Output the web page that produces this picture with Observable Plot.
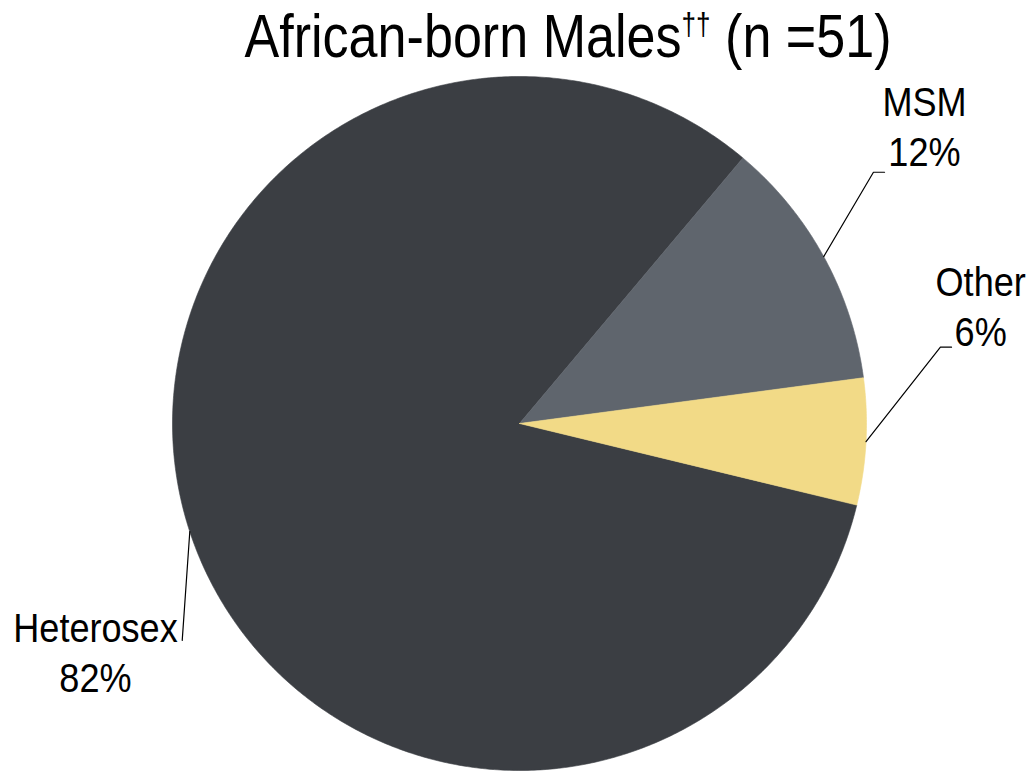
<!DOCTYPE html>
<html><head><meta charset="utf-8">
<script src="https://cdn.jsdelivr.net/npm/d3@7"></script>
<script src="https://cdn.jsdelivr.net/npm/@observablehq/plot@0.6"></script>
<style>
html,body{margin:0;padding:0;background:#fff;}
#wrap{position:relative;width:1029px;height:771px;overflow:hidden;font-family:"Liberation Sans",Arial,sans-serif;}
#title{position:absolute;top:6px;left:568px;transform:translateX(-50%) scaleX(0.854);white-space:nowrap;font-size:61px;line-height:61px;color:#000;}
#title .sup{font-size:0.5em;vertical-align:0.72em;line-height:0;}
#chart{position:absolute;top:76px;left:0;}
</style></head><body>
<div id="wrap"><div id="title">African-born Males<span class="sup">††</span> (n =51)</div><div id="chart"></div></div>
<script>
// ---- data ----
const categories = ["Heterosex", "MSM", "Other"];
const counts = [42, 6, 3];               // n = 51
const percentLabels = ["82%", "12%", "6%"];
const colors = ["#3b3e43", "#5f656d", "#f2da87"];
const firstSliceAngle = 103.6;            // degrees clockwise from 12 o'clock

// ---- label layout (in pie-radius units) ----
const leaderElbows = [[-0.972, -0.625], [1.020, 0.724], [1.213, 0.220]];
const leaderEnds   = [[-0.972, -0.625], [1.052, 0.724], [1.245, 0.220]];
const labelAnchors = [[-1.222, -0.774], [1.167, 0.741], [1.329, 0.222]];

const rad = d => d * Math.PI / 180;
const pie = d3.pie().sort(null).value(d => d.count)
  .startAngle(rad(firstSliceAngle)).endAngle(rad(firstSliceAngle + 360));
const rows = categories.map((c, i) => ({category: c, count: counts[i], pct: percentLabels[i], color: colors[i], i}));
const arcs = pie(rows);

// slice outlines: centre + arc boundary
const slices = arcs.map(a => {
  const pts = [{x: 0, y: 0}];
  const n = Math.max(2, Math.ceil((a.endAngle - a.startAngle) / rad(0.5)));
  for (let k = 0; k <= n; k++) {
    const t = a.startAngle + (a.endAngle - a.startAngle) * k / n;
    pts.push({x: Math.sin(t), y: Math.cos(t)});
  }
  pts.push({x: 0, y: 0});
  return {color: a.data.color, pts};
});

const leaders = arcs.map((a, i) => {
  const m = (a.startAngle + a.endAngle) / 2;
  return [
    {x: Math.sin(m), y: Math.cos(m), k: i},
    {x: leaderElbows[i][0], y: leaderElbows[i][1], k: i},
    {x: leaderEnds[i][0], y: leaderEnds[i][1], k: i}
  ];
}).flat();

const labels = rows.map((r, i) => ({x: labelAnchors[i][0], y: labelAnchors[i][1], text: r.category + "\n" + r.pct}));

const font = '"Liberation Sans",Arial,sans-serif';
const chart = Plot.plot({
  width: 1029,
  height: 695,
  margin: 0,
  style: {background: "#fff", fontFamily: font},
  x: {domain: [-1, 1], range: [172, 866], axis: null},
  y: {domain: [-1, 1], range: [694, 0], axis: null},
  marks: [
    ...slices.map(s => Plot.line(s.pts, {x: "x", y: "y", fill: s.color, stroke: s.color, strokeWidth: 0.6, curve: "linear"})),
    Plot.line(leaders, {x: "x", y: "y", z: "k", stroke: "#000", strokeWidth: 1.2}),
    Plot.text(labels, {x: "x", y: "y", text: "text", textAnchor: "middle", lineAnchor: "bottom", lineHeight: 1.23, fontSize: 41, fill: "#000", fontFamily: font})
  ]
});
// condense the label glyphs horizontally (narrow typeface in the original)
chart.querySelectorAll('g[aria-label="text"] text').forEach(t => {
  t.setAttribute("transform", (t.getAttribute("transform") || "") + " scale(0.88,1)");
});
document.getElementById("chart").appendChild(chart);
</script>
</body></html>
